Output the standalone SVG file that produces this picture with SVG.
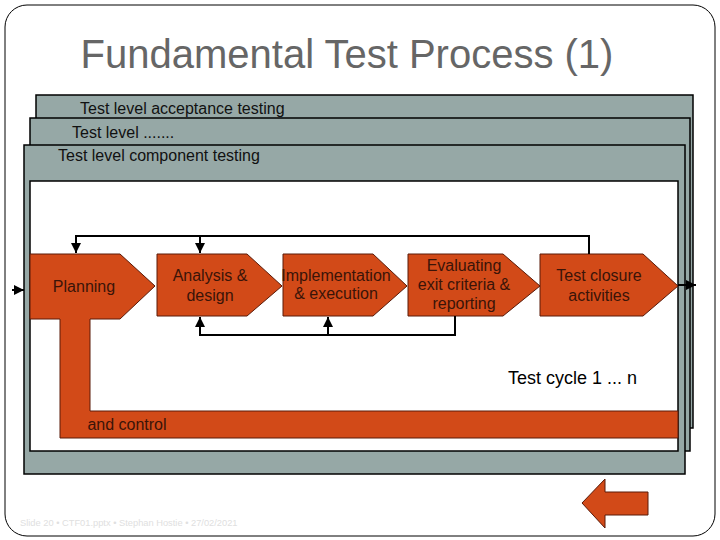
<svg xmlns="http://www.w3.org/2000/svg" width="720" height="540" viewBox="0 0 720 540">
<defs>
<style>
.layer{fill:#96A8A6;stroke:#000;stroke-width:1.5}
.inner{fill:#fff;stroke:#000;stroke-width:1.5}
.step{fill:#D24A18;stroke:#5a1a08;stroke-width:1}
.lvl{font-family:"Liberation Sans",Arial,sans-serif;font-size:16px;fill:#111}
.st{font-family:"Liberation Sans",Arial,sans-serif;font-size:16px;fill:#3a1408;text-anchor:middle}
.conn{fill:none;stroke:#000;stroke-width:2}
</style>
<marker id="ah" viewBox="0 0 10 10" refX="10" refY="5" markerWidth="5" markerHeight="5" orient="auto" markerUnits="strokeWidth">
<path d="M0,0 L10,5 L0,10 Z" fill="#000"/>
</marker>
</defs>
<rect x="0" y="0" width="720" height="540" fill="#fff"/>
<rect x="5" y="5" width="710" height="531" rx="22" ry="22" fill="none" stroke="#000" stroke-width="1"/>
<text x="347" y="68" text-anchor="middle" font-family="'Liberation Sans',Arial,sans-serif" font-size="40" fill="#666">Fundamental Test Process (1)</text>

<g id="layer-acceptance">
<rect class="layer" x="36" y="95" width="657" height="333"/>
<text class="lvl" x="80" y="114">Test level acceptance testing</text>
</g>
<g id="layer-middle">
<rect class="layer" x="30" y="118" width="660" height="333"/>
<text class="lvl" x="72" y="138">Test level .......</text>
</g>
<g id="layer-component">
<rect class="layer" x="24" y="145" width="661" height="329"/>
<rect class="inner" x="30" y="181" width="648" height="270"/>
<text class="lvl" x="58" y="161">Test level component testing</text>
</g>

<g id="planning">
<path class="step" d="M30,254 L120,254 L155,286 L120,319 L90,319 L90,411 L678,411 L678,438 L60,438 L60,319 L30,319 Z"/>
<text class="st" x="84" y="292">Planning</text>
<text class="st" x="127" y="430">and control</text>
</g>
<g id="analysis">
<path class="step" d="M157,254 L247,254 L282,286 L247,316 L157,316 Z"/>
<text class="st" x="210" y="281">Analysis &amp;</text>
<text class="st" x="210" y="301">design</text>
</g>
<g id="implementation">
<path class="step" d="M283,254 L373,254 L407,286 L373,316 L283,316 Z"/>
<text class="st" x="336" y="281" font-size="14">Implementation</text>
<text class="st" x="336" y="299" font-size="14">&amp; execution</text>
</g>
<g id="evaluating">
<path class="step" d="M408,254 L503,254 L540,286 L503,316 L408,316 Z"/>
<text class="st" x="464" y="271" font-size="15">Evaluating</text>
<text class="st" x="464" y="290" font-size="15">exit criteria &amp;</text>
<text class="st" x="464" y="309" font-size="15">reporting</text>
</g>
<g id="closure">
<path class="step" d="M540,254 L643,254 L678,286 L643,316 L540,316 Z"/>
<text class="st" x="599" y="281">Test closure</text>
<text class="st" x="599" y="301">activities</text>
</g>

<g id="connectors">
<path class="conn" d="M589,254 L589,236 L76,236 L76,253" marker-end="url(#ah)"/>
<path class="conn" d="M200,236 L200,253" marker-end="url(#ah)"/>
<path class="conn" d="M455,316 L455,335 L200,335 L200,317" marker-end="url(#ah)"/>
<path class="conn" d="M328,335 L328,317" marker-end="url(#ah)"/>
<path class="conn" d="M12,290 L24,290" marker-end="url(#ah)"/>
<path class="conn" d="M678,285 L696,285" marker-end="url(#ah)"/>
</g>

<text x="508" y="384" font-family="'Liberation Sans',Arial,sans-serif" font-size="18" fill="#000">Test cycle 1 ... n</text>

<g id="back-arrow">
<path class="step" d="M582,503 L605,479 L605,492 L648,492 L648,515 L605,515 L605,528 Z" stroke-width="1.5"/>
</g>
<text x="20" y="526" font-family="'Liberation Sans',Arial,sans-serif" font-size="9.3" fill="#e0e0e0">Slide 20 • CTF01.pptx • Stephan Hostie • 27/02/2021</text>
</svg>
